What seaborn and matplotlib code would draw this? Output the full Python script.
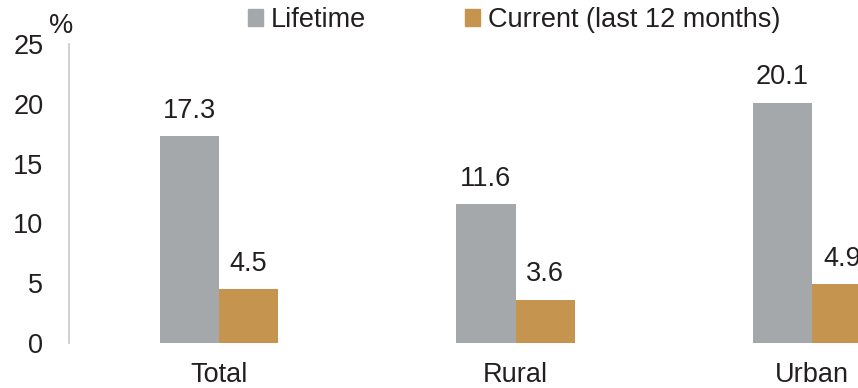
import numpy as np
import pandas as pd
import matplotlib
matplotlib.use("Agg")
import matplotlib.pyplot as plt
import seaborn as sns

# data
areas = ["Total", "Rural", "Urban"]
series = ["Lifetime", "Current (last 12 months)"]
lifetime = [17.3, 11.6, 20.1]
current = [4.5, 3.6, 4.9]
colors = ["#a5a8ab", "#c5954f"]

df = pd.DataFrame({
    "area": areas * 2,
    "type": [series[0]] * 3 + [series[1]] * 3,
    "value": lifetime + current,
})

sns.set_style("white")
plt.rcParams["font.family"] = ["Liberation Sans", "DejaVu Sans"]
txt = "#231f20"
fs = 19.5

fig = plt.figure(figsize=(8.58, 3.88), dpi=100)
ax = fig.add_axes([69 / 858, 1 - 343 / 388, 1 - 69 / 858, (343 - 44) / 388])

sns.barplot(data=df, x="area", y="value", hue="type", palette=colors,
            width=0.4, gap=0, saturation=1, linewidth=0, ax=ax)

# value labels (the urban "4.9" is clipped by the right edge, as in the source)
for cont in ax.containers:
    ax.bar_label(cont, fmt="%.1f", padding=9, fontsize=fs, color=txt)

ax.set_ylim(0, 25)
ax.set_yticks(np.arange(0, 26, 5))
ax.set_xlim(-0.506, 2.155)
ax.set_xlabel("")
ax.set_ylabel("")

for s in ["top", "right", "bottom"]:
    ax.spines[s].set_visible(False)
ax.spines["left"].set_color("#c8c8c8")
ax.spines["left"].set_linewidth(1.2)
ax.tick_params(axis="y", length=6.5, width=1.2, color="#c8c8c8", pad=12,
               labelsize=fs, labelcolor=txt)
ax.tick_params(axis="x", length=0, pad=14, labelsize=fs, labelcolor=txt)

fig.text(61 / 858, 1 - 26 / 388, "%", fontsize=fs, color=txt,
         ha="center", va="center")

ax.legend_.remove()
handles = [plt.Rectangle((0, 0), 1, 1, color=c) for c in colors]
fig.legend(handles, series, loc="center left", bbox_to_anchor=(248 / 858, 1 - 20 / 388),
           ncol=2, frameon=False, fontsize=fs, handlelength=0.55, handleheight=0.55,
           handletextpad=0.3, columnspacing=3.65, labelcolor=txt, borderpad=0,
           borderaxespad=0)

fig.savefig("out.png", dpi=100)
